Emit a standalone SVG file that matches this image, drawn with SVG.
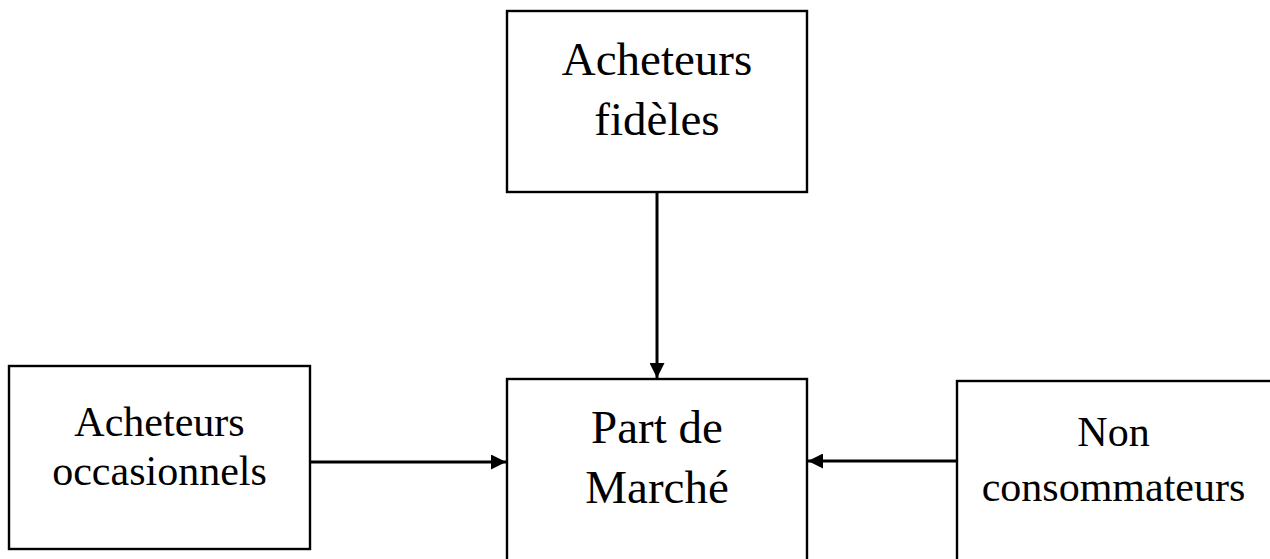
<svg xmlns="http://www.w3.org/2000/svg" width="1270" height="559" viewBox="0 0 1270 559">
<defs>
<style>
.box{fill:#fff;stroke:#000;stroke-width:2.4}
.big{font-family:"Liberation Serif","Times New Roman",serif;font-size:47px;fill:#000;text-anchor:middle}
.small{font-family:"Liberation Serif","Times New Roman",serif;font-size:42px;fill:#000;text-anchor:middle}
.conn{stroke:#000;stroke-width:3;fill:none;marker-end:url(#arr)}
</style>
<marker id="arr" viewBox="0 0 10 10" refX="10" refY="5" markerWidth="15" markerHeight="15" markerUnits="userSpaceOnUse" orient="auto">
<path d="M0,0 L10,5 L0,10 z" fill="#000"/>
</marker>
</defs>
<rect width="1270" height="559" fill="#fff"/>
<g id="fideles">
<rect class="box" x="507" y="11" width="300" height="181"/>
<text class="big" x="657" y="75">Acheteurs</text>
<text class="big" x="657" y="135">fidèles</text>
</g>
<g id="part">
<rect class="box" x="507" y="379" width="300" height="200"/>
<text class="big" x="657" y="443">Part de</text>
<text class="big" x="657" y="503">Marché</text>
</g>
<g id="occasionnels">
<rect class="box" x="9" y="366" width="301" height="183"/>
<text class="small" x="159.5" y="436">Acheteurs</text>
<text class="small" x="159.5" y="485">occasionnels</text>
</g>
<g id="non">
<rect class="box" x="957" y="381" width="330" height="200"/>
<text class="small" x="1113.5" y="446">Non</text>
<text class="small" x="1113.5" y="501">consommateurs</text>
</g>
<g id="connectors">
<line class="conn" x1="657" y1="192" x2="657" y2="378"/>
<line class="conn" x1="310" y1="462" x2="506" y2="462"/>
<line class="conn" x1="957" y1="461" x2="808" y2="461"/>
</g>
</svg>
